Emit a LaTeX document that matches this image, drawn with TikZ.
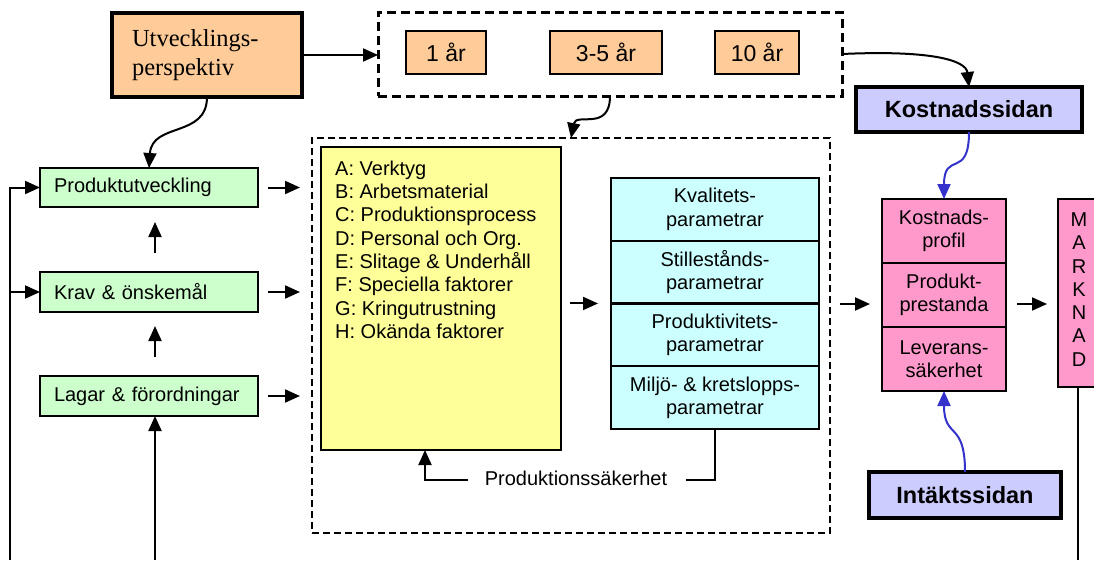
\documentclass[tikz,border=0pt]{standalone}
\usepackage{fontspec}
\setmainfont{Liberation Sans}
\newfontfamily\seriffont{Liberation Serif}
\usetikzlibrary{arrows.meta}
\definecolor{peach}{HTML}{FFCC99}
\definecolor{lav}{HTML}{CCCCFF}
\definecolor{pinkc}{HTML}{FF99CC}
\definecolor{greenc}{HTML}{CCFFCC}
\definecolor{yell}{HTML}{FFFF99}
\definecolor{cyanc}{HTML}{CCFFFF}
\definecolor{bluearr}{HTML}{3333CC}
\tikzset{
  box/.style={draw=black, line width=2pt, inner sep=0pt, outer sep=0pt, font=\fontsize{20}{23.3}\selectfont, align=center},
  thickbox/.style={draw=black, line width=4pt, inner sep=0pt, outer sep=0pt},
  arr/.style={line width=2pt, -{Triangle[length=15pt,width=13pt]}},
  bluea/.style={arr, draw=bluearr, -{Triangle[length=15pt,width=13pt,fill=bluearr]}},
  plain/.style={line width=2pt}
}
\begin{document}
\begin{tikzpicture}[x=1pt,y=-1pt]
\useasboundingbox (0,0) rectangle (1094,560);
\clip (0,0) rectangle (1094,560);
% top row
\node[thickbox, line width=3.5pt, fill=peach, minimum width=190pt, minimum height=84pt, text width=150pt, align=left, font=\seriffont\fontsize{24.5}{29}\selectfont] (ut) at (207,55) {Utvecklings-\\perspektiv};
\node[draw, line width=3pt, dash pattern=on 9pt off 5pt, minimum width=464pt, minimum height=84pt, inner sep=0pt, outer sep=0pt] (top) at (610,54) {};
\node[box, fill=peach, minimum width=80pt, minimum height=43pt, font=\fontsize{23}{27}\selectfont] (y1) at (446,52.5) {1 år};
\node[box, fill=peach, minimum width=112pt, minimum height=43pt, font=\fontsize{23}{27}\selectfont] (y2) at (606,52.5) {3-5 år};
\node[box, fill=peach, minimum width=84pt, minimum height=43pt, font=\fontsize{23}{27}\selectfont] (y3) at (757,52.5) {10 år};
\node[thickbox, fill=lav, minimum width=226pt, minimum height=45pt, font=\bfseries\fontsize{23.5}{27}\selectfont] (ks) at (969,109.5) {Kostnadssidan};
% left column
\node[box, fill=greenc, minimum width=218pt, minimum height=39pt, text width=190pt, align=left] (pu) at (149,187.5) {Produktutveckling};
\node[box, fill=greenc, minimum width=218pt, minimum height=40pt, text width=190pt, align=left] (kr) at (149,292) {Krav \& önskemål};
\node[box, fill=greenc, minimum width=218pt, minimum height=40pt, text width=190pt, align=left] (lg) at (149,396) {Lagar \& förordningar};
% middle
\node[draw, line width=1.8pt, dash pattern=on 7pt off 4pt, minimum width=518pt, minimum height=395pt, inner sep=0pt, outer sep=0pt] (mid) at (571,335.5) {};
\node[box, fill=yell, minimum width=240pt, minimum height=303pt] (yel) at (441,298.5) {};
\node[anchor=north west, inner sep=0pt, align=left, font=\fontsize{20}{23.3}\selectfont] (list) at (335,160.7) {A: Verktyg\\B: Arbetsmaterial\\C: Produktionsprocess\\D: Personal och Org.\\E: Slitage \& Underhåll\\F: Speciella faktorer\\G: Kringutrustning\\H: Okända faktorer};
\node[box, fill=cyanc, minimum width=208pt, minimum height=62.75pt] (c1) at (715,209.4) {Kvalitets-\\parametrar};
\node[box, fill=cyanc, minimum width=208pt, minimum height=62.75pt] (c2) at (715,272.1) {Stillestånds-\\parametrar};
\node[box, fill=cyanc, minimum width=208pt, minimum height=62.75pt] (c3) at (715,334.9) {Produktivitets-\\parametrar};
\node[box, fill=cyanc, minimum width=208pt, minimum height=62.75pt] (c4) at (715,397.6) {Miljö- \& kretslopps-\\parametrar};
\node[inner sep=0pt, font=\fontsize{20}{23.3}\selectfont] (ps) at (576,478) {Produktionssäkerhet};
% right
\node[box, fill=pinkc, minimum width=124pt, minimum height=64pt] (pk1) at (944,231) {Kostnads-\\profil};
\node[box, fill=pinkc, minimum width=124pt, minimum height=64pt] (pk2) at (944,295) {Produkt-\\prestanda};
\node[box, fill=pinkc, minimum width=124pt, minimum height=64pt] (pk3) at (944,359) {Leverans-\\säkerhet};
\node[box, fill=pinkc, minimum width=40pt, minimum height=188pt] (mk) at (1078,293) {};
\node[inner sep=0pt, align=center, font=\fontsize{20}{23.3}\selectfont] (mkt) at (1079,289.5) {M\\A\\R\\K\\N\\A\\D};
\node[thickbox, fill=lav, minimum width=192pt, minimum height=46pt, font=\bfseries\fontsize{23.5}{27}\selectfont] (it) at (965,495) {Intäktssidan};
% free ends
\coordinate (b0) at (10,560);
\coordinate (b1) at (155,560);
\coordinate (b2) at (1078,560);
\coordinate (am) at ([xshift=-12pt,yshift=-9pt]pk2.west);
% connectors
\draw[arr] (ut.east) -- (ut.east -| top.west);
\draw[arr] (ut.south) .. controls (207,138) and (152,122) .. (pu.north);
\draw[arr] (top.south) .. controls (610,132) and (576,112) .. (mid.north);
\draw[arr] (top.east) .. controls (930,50) and (966,60) .. (ks.north);
\draw[bluea] (ks.south) .. controls (969,180) and (944,150) .. (pk1.north);
\draw[bluea] (it.north) .. controls (965,420) and (944,440) .. (pk3.south);
\draw[arr] ([xshift=10pt]pu.east) -- ([xshift=-12pt]pu.east -| mid.west);
\draw[arr] ([xshift=10pt]kr.east) -- ([xshift=-12pt]kr.east -| mid.west);
\draw[arr] ([xshift=10pt]lg.east) -- ([xshift=-12pt]lg.east -| mid.west);
\draw[arr] ([xshift=6pt,yshift=19pt]kr.north) -- ([xshift=6pt,yshift=-15pt]pu.south);
\draw[arr] ([xshift=6pt,yshift=19pt]lg.north) -- ([xshift=6pt,yshift=-14pt]kr.south);
\draw[arr] (b1) -- (b1 |- lg.south);
\draw[arr] (b0) -- (b0 |- pu.west) -- (pu.west);
\draw[arr] (b0 |- kr.west) -- (kr.west);
\draw[arr] ([xshift=9pt]c2.south west -| yel.east) -- ([xshift=-13pt]c2.south west);
\draw[arr] ([xshift=10pt]mid.east |- am) -- (am);
\draw[arr] ([xshift=11pt,yshift=-9pt]pk2.east) -- ([xshift=-11pt,yshift=-9pt]pk2.east -| mk.west);
\draw[plain] (c4.south) |- ([xshift=19pt,yshift=-2pt]ps.east);
\draw[arr] ([xshift=-17pt,yshift=-2pt]ps.west) -| ([xshift=-16pt]yel.south);
\draw[plain] (mk.south) -- (b2);
\end{tikzpicture}
\end{document}
